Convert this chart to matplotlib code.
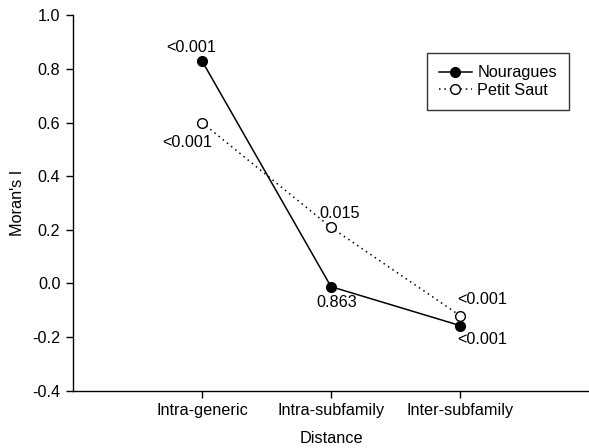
import matplotlib.pyplot as plt
from matplotlib.lines import Line2D

plt.rcParams['font.family'] = ['Liberation Sans', 'DejaVu Sans']

categories = ['Intra-generic', 'Intra-subfamily', 'Inter-subfamily']
nouragues = [0.83, -0.012, -0.157]
petit_saut = [0.60, 0.209, -0.12]
nouragues_p = ['<0.001', '0.863', '<0.001']
petit_saut_p = ['<0.001', '0.015', '<0.001']

fig = plt.figure(figsize=(5.89, 4.48), dpi=100)
ax = fig.add_axes([73 / 589, 1 - 390.7 / 448, 516 / 589, (390.7 - 15.3) / 448])

x = [1, 2, 3]
ax.plot(x, nouragues, color='black', linewidth=1.1, marker='o', markersize=7,
        markerfacecolor='black', markeredgecolor='black', zorder=3)
ax.plot(x, petit_saut, color='black', linewidth=1.1, linestyle=(0, (1, 2.5)),
        marker='o', markersize=7, markerfacecolor='white',
        markeredgecolor='black', zorder=4)

# p-value labels, offsets in pixels from the marker
fs = 11.7
nour_off = [(-11, 13), (6, -16), (22, -14)]
ps_off = [(-15, -20), (9, 14), (22, 16)]
for xi, yi, lab, off in zip(x, nouragues, nouragues_p, nour_off):
    ax.annotate(lab, (xi, yi), xytext=off, textcoords='offset pixels',
                ha='center', va='center', fontsize=fs)
for xi, yi, lab, off in zip(x, petit_saut, petit_saut_p, ps_off):
    ax.annotate(lab, (xi, yi), xytext=off, textcoords='offset pixels',
                ha='center', va='center', fontsize=fs)

ax.set_xlim(0, 4)
ax.set_ylim(-0.4, 1.0)
ax.set_xticks(x)
ax.set_xticklabels(categories, fontsize=fs)
ax.set_yticks([-0.4, -0.2, 0.0, 0.2, 0.4, 0.6, 0.8, 1.0])
ax.set_yticklabels(['%.1f' % v for v in ax.get_yticks()], fontsize=fs)
ax.tick_params(direction='out', length=5, width=1, pad=4)
ax.spines['top'].set_visible(False)
ax.spines['right'].set_visible(False)
for s in ('left', 'bottom'):
    ax.spines[s].set_linewidth(1)

ax.set_xlabel('Distance', fontsize=fs, labelpad=9)
ax.set_ylabel("Moran's I", fontsize=fs, labelpad=5)

handles = [
    Line2D([], [], color='black', linewidth=1.1, marker='o', markersize=7,
           markerfacecolor='black'),
    Line2D([], [], color='black', linewidth=1.1, linestyle=(0, (1, 2.5)),
           marker='o', markersize=7, markerfacecolor='white'),
]
leg = ax.legend(handles, ['Nouragues', 'Petit Saut'], loc='upper left',
                bbox_to_anchor=((427 - 73) / 516, (390.7 - 53) / 375.4),
                fontsize=fs, frameon=True, fancybox=False, handlelength=2.0,
                borderpad=0.75, labelspacing=0.15, handletextpad=0.35,
                borderaxespad=0)
leg.get_frame().set_edgecolor('black')
leg.get_frame().set_linewidth(1)

fig.savefig('out.png', dpi=100)
